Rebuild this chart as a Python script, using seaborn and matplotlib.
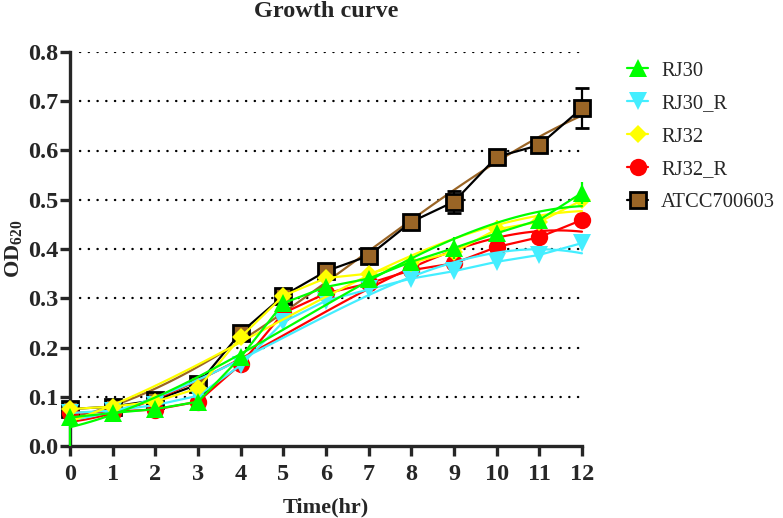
import matplotlib
matplotlib.use("Agg")
import matplotlib.pyplot as plt
from matplotlib.lines import Line2D
import numpy as np
import pandas as pd
import seaborn as sns

time_hr = [0, 1, 2, 3, 4, 5, 6, 7, 8, 9, 10, 11, 12]

rj30 = [0.058, 0.067, 0.075, 0.090, 0.180, 0.290, 0.323, 0.340, 0.374, 0.402, 0.432, 0.459, 0.514]
rj30_err_lo = [0.058, 0.005, 0.005, 0.005, 0.008, 0.008, 0.008, 0.008, 0.010, 0.022, 0.010, 0.006, 0.022]
rj30_err_hi = [0.005, 0.005, 0.005, 0.005, 0.008, 0.008, 0.008, 0.008, 0.010, 0.022, 0.010, 0.006, 0.022]

rj30_r = [0.067, 0.072, 0.083, 0.102, 0.164, 0.252, 0.295, 0.318, 0.340, 0.355, 0.374, 0.388, 0.412]
rj30_r_err = [0.005, 0.004, 0.004, 0.005, 0.008, 0.008, 0.015, 0.008, 0.006, 0.006, 0.005, 0.004, 0.005]

rj32 = [0.075, 0.080, 0.090, 0.117, 0.221, 0.305, 0.341, 0.350, 0.372, 0.394, 0.440, 0.455, 0.499]
rj32_err = [0.004, 0.004, 0.004, 0.006, 0.006, 0.006, 0.006, 0.006, 0.008, 0.010, 0.019, 0.006, 0.012]

rj32_r = [0.067, 0.070, 0.074, 0.090, 0.166, 0.270, 0.310, 0.330, 0.357, 0.371, 0.404, 0.424, 0.459]
rj32_r_err = [0.004, 0.004, 0.004, 0.005, 0.006, 0.006, 0.006, 0.006, 0.006, 0.006, 0.006, 0.005, 0.006]

atcc = [0.075, 0.080, 0.093, 0.125, 0.230, 0.305, 0.355, 0.386, 0.455, 0.496, 0.587, 0.611, 0.686]
atcc_err = [0.004, 0.004, 0.004, 0.006, 0.006, 0.006, 0.006, 0.006, 0.006, 0.022, 0.006, 0.008, 0.040]

series_names = ["RJ30", "RJ30_R", "RJ32", "RJ32_R", "ATCC700603"]

sns.set_style("ticks")
plt.rcParams["font.family"] = ["Liberation Serif", "DejaVu Serif"]
plt.rcParams["mathtext.fontset"] = "custom"
plt.rcParams["mathtext.rm"] = "Liberation Serif:bold"
plt.rcParams["mathtext.it"] = "Liberation Serif:bold"
plt.rcParams["mathtext.bf"] = "Liberation Serif:bold"

fig = plt.figure(figsize=(7.83, 5.18), dpi=100)
ax = fig.add_axes([70 / 783, 1 - 446 / 518, 512 / 783, 394 / 518])

# per series: values, (lower, upper) errors, marker, face colour, data-line colour, size, zorder
styles = {
    "ATCC700603": (atcc, [atcc_err, atcc_err], "s", "#9a6526", "black", 12, 2),
    "RJ32_R": (rj32_r, [rj32_r_err, rj32_r_err], "o", "#ff0000", "#ff0000", 12.5, 3),
    "RJ30_R": (rj30_r, [rj30_r_err, rj30_r_err], "v", "#44eeff", "#44eeff", 13, 4),
    "RJ32": (rj32, [rj32_err, rj32_err], "D", "#ffff00", "#ffff00", 9.5, 5),
    "RJ30": (rj30, [rj30_err_lo, rj30_err_hi], "^", "#00ff00", "#00ff00", 13, 6),
}

for yval in [0.1, 0.2, 0.3, 0.4, 0.5, 0.6, 0.7, 0.8]:
    ax.axhline(yval, xmin=0.02, color="black", lw=1.7, linestyle=(0, (0.1, 3.6)),
               dash_capstyle="round", zorder=0.5)

for name, (vals, errs, marker, face, line, ms, z) in styles.items():
    df = pd.DataFrame({"t": time_hr, "od": vals})
    sns.regplot(data=df, x="t", y="od", order=3, ci=None, scatter=False, ax=ax,
                line_kws={"color": face, "lw": 1.6, "zorder": z - 0.5, "clip_on": False})
    is_ref = name == "ATCC700603"
    ax.errorbar(time_hr, vals, yerr=errs, color=line, lw=1.6,
                ecolor="black" if is_ref else face, elinewidth=1.6,
                capsize=5, capthick=1.6, marker=marker, markersize=ms, markerfacecolor=face,
                markeredgecolor="black" if is_ref else face, markeredgewidth=2 if is_ref else 0,
                zorder=z, clip_on=False)

ax.set_xlim(0, 12)
ax.set_ylim(0, 0.8)
ax.set_xticks(time_hr)
ax.set_yticks(np.arange(0, 0.81, 0.1))
ax.set_yticklabels([f"{v:.1f}" for v in np.arange(0, 0.81, 0.1)])
for lab in ax.get_xticklabels() + ax.get_yticklabels():
    lab.set_fontweight("bold")
    lab.set_fontsize(17.5)
ax.tick_params(axis="both", length=7, width=2.4, direction="out")
ax.tick_params(axis="x", pad=6)
ax.tick_params(axis="y", pad=1.5)
sns.despine(ax=ax)
for sp in ["left", "bottom"]:
    ax.spines[sp].set_linewidth(2.4)
ax.set_xlabel("Time(hr)", fontsize=16, fontweight="bold")
ax.xaxis.set_label_coords(0.5, -(507 - 446) / 394, transform=ax.transAxes)
ax.xaxis.label.set_va("center")
ax.set_ylabel("OD$_{620}$", fontsize=16, fontweight="bold")
ax.yaxis.set_label_coords(-(70 - 13) / 512, 0.5, transform=ax.transAxes)
ax.yaxis.label.set_va("center")
ax.set_title("Growth curve", fontsize=17.5, fontweight="bold", pad=25)

handles = []
for name in series_names:
    vals, errs, marker, face, line, ms, z = styles[name]
    is_ref = name == "ATCC700603"
    handles.append(Line2D([0], [0], color=line, lw=1.6, marker=marker, markersize=ms,
                          markerfacecolor=face, markeredgecolor="black" if is_ref else face,
                          markeredgewidth=2 if is_ref else 0))
fig.legend(handles, series_names, loc="upper left", bbox_to_anchor=(619 / 783, 1 - 53 / 518),
           borderaxespad=0, frameon=False, fontsize=14.8, handlelength=1.0,
           handletextpad=0.65, labelspacing=0.66)

fig.savefig("out.png", dpi=100)
